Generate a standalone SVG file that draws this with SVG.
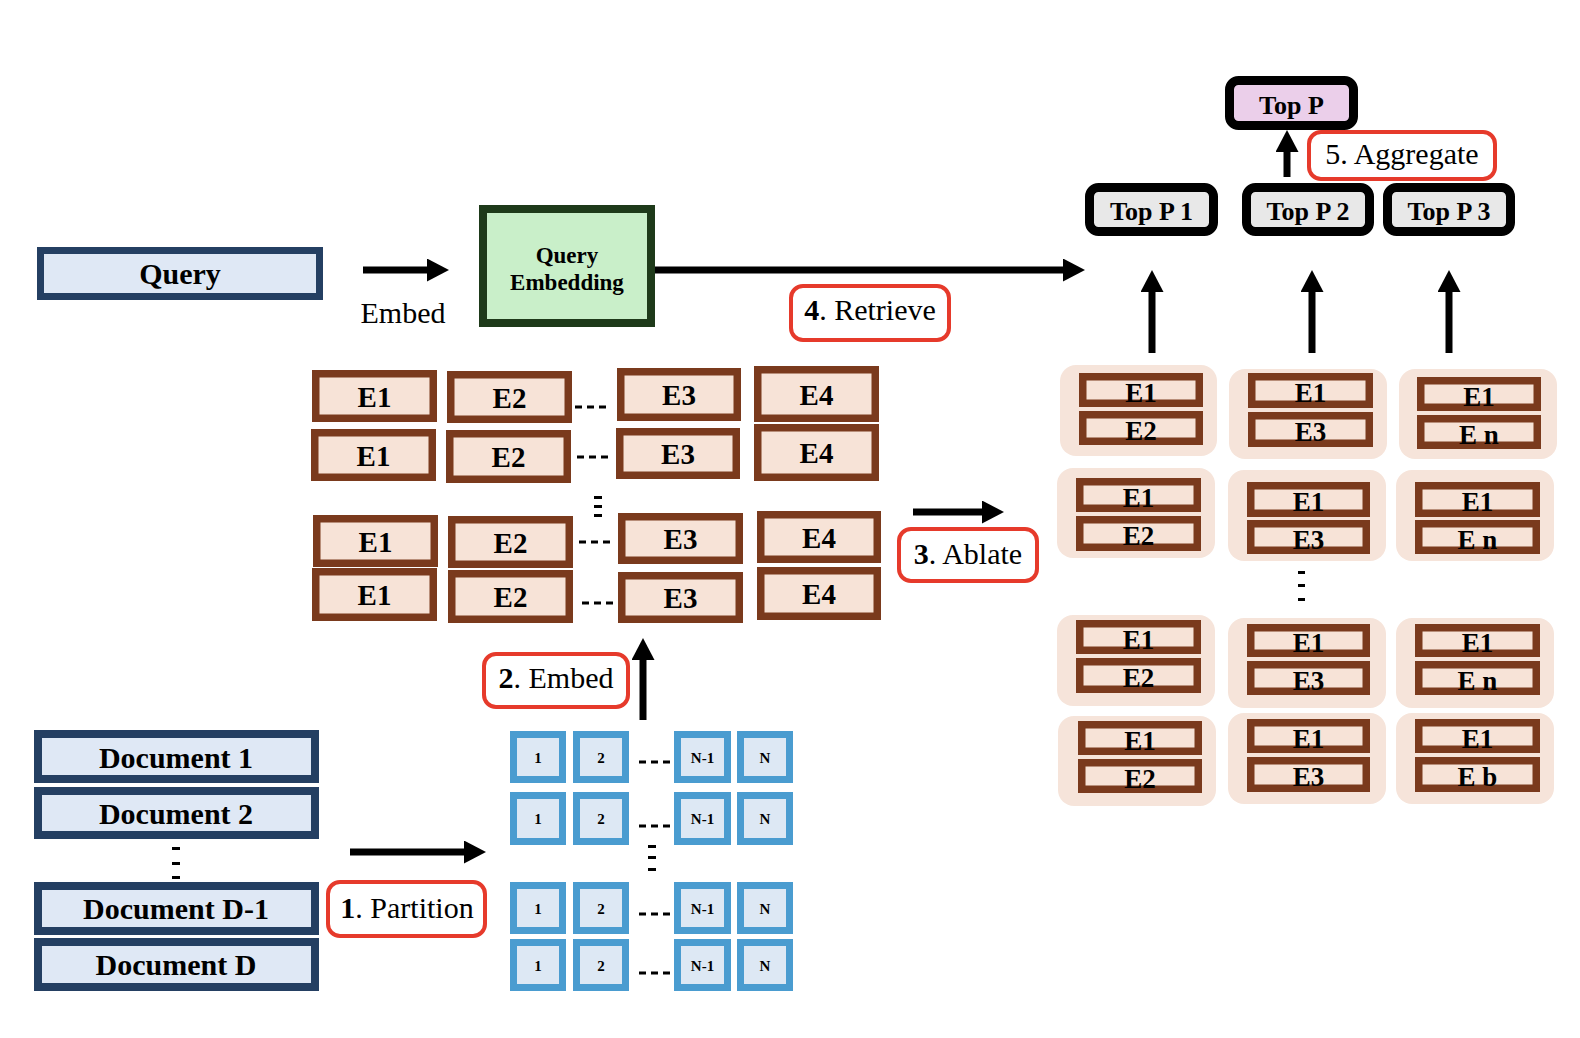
<svg xmlns="http://www.w3.org/2000/svg" width="1580" height="1038" viewBox="0 0 1580 1038">
<defs>
<marker id="ah" markerUnits="userSpaceOnUse" markerWidth="22" markerHeight="23" refX="0" refY="11.5" orient="auto" viewBox="0 0 22 23">
<path d="M0,0 L22,11.5 L0,23 Z" fill="#000"/>
</marker>
<style>
text{font-family:"Liberation Serif","Times New Roman",serif;text-anchor:middle;fill:#000}
.b{font-weight:bold}
.q{fill:#dfe8f5;stroke:#243f62;stroke-width:7}
.d{fill:#dfe8f5;stroke:#243f62;stroke-width:8}
.qe{fill:#c9efc9;stroke:#1e3a1a;stroke-width:8}
.eb{fill:#f7e3d7;stroke:#7a3a1d;stroke-width:7.5}
.grp{fill:#f6e4da;stroke:none}
.bl{fill:#dde8f4;stroke:#4a9cd0;stroke-width:7}
.lab{fill:#fff;stroke:#e63a2b;stroke-width:4}
.tp{fill:#e8e8e8;stroke:#000;stroke-width:9}
.tpp{fill:#ebcfea;stroke:#000;stroke-width:9}
.et{font-weight:bold;font-size:29px}
.rt{font-weight:bold;font-size:27px}
.nt{font-weight:bold;font-size:15px}
.dt{font-weight:bold;font-size:30px}
.lt{font-size:30px}
.tt{font-weight:bold;font-size:26px}
.arr{stroke:#000;stroke-width:7;fill:none;marker-end:url(#ah)}
.dash{stroke:#000;stroke-width:3;stroke-dasharray:7 5;fill:none}
.dot{fill:#000}
</style>
</defs>
<rect width="1580" height="1038" fill="#fff"/>

<g id="connectors">
<line class="arr" x1="363" y1="270" x2="427" y2="270"/>
<line class="arr" x1="655" y1="270" x2="1063" y2="270"/>
<line class="arr" x1="913" y1="512" x2="982" y2="512"/>
<line class="arr" x1="350" y1="852" x2="464" y2="852"/>
<line class="arr" x1="643" y1="720" x2="643" y2="660"/>
<line class="arr" x1="1152" y1="353" x2="1152" y2="292"/>
<line class="arr" x1="1312" y1="353" x2="1312" y2="292"/>
<line class="arr" x1="1449" y1="353" x2="1449" y2="292"/>
<line class="arr" x1="1287" y1="177" x2="1287" y2="152"/>
</g>

<g id="query">
<rect class="q" x="40.5" y="250.5" width="279" height="46"/>
<text class="b" x="180" y="284" font-size="30">Query</text>
</g>
<text id="embed-label" class="lt" x="403" y="323" font-size="29">Embed</text>

<g id="query-embedding">
<rect class="qe" x="483" y="209" width="168" height="114"/>
<text class="b" x="567" y="263" font-size="23">Query</text>
<text class="b" x="567" y="290" font-size="23">Embedding</text>
</g>

<g id="label-retrieve">
<rect class="lab" x="791" y="286" width="158" height="54" rx="12"/>
<text class="lt" x="870" y="320"><tspan class="b">4</tspan>. Retrieve</text>
</g>
<g id="label-ablate">
<rect class="lab" x="899" y="529" width="138" height="52" rx="12"/>
<text class="lt" x="968" y="564"><tspan class="b">3</tspan>. Ablate</text>
</g>
<g id="label-embed">
<rect class="lab" x="484" y="654" width="144" height="53" rx="12"/>
<text class="lt" x="556" y="688"><tspan class="b">2</tspan>. Embed</text>
</g>
<g id="label-partition">
<rect class="lab" x="328" y="882" width="157" height="54" rx="12"/>
<text class="lt" x="407" y="918"><tspan class="b">1</tspan>. Partition</text>
</g>
<g id="label-aggregate">
<rect class="lab" x="1309" y="132" width="186" height="47" rx="12"/>
<text class="lt" x="1402" y="164">5. Aggregate</text>
</g>

<g id="documents">
<rect class="d" x="38" y="734" width="277" height="45"/>
<text class="dt" x="176" y="768">Document 1</text>
<rect class="d" x="38" y="791" width="277" height="44"/>
<text class="dt" x="176" y="824">Document 2</text>
<rect class="dot" x="172" y="847" width="8" height="3"/>
<rect class="dot" x="172" y="862" width="8" height="3"/>
<rect class="dot" x="172" y="876" width="8" height="3"/>
<rect class="d" x="38" y="886" width="277" height="45"/>
<text class="dt" x="176" y="919">Document D-1</text>
<rect class="d" x="38" y="942" width="277" height="45"/>
<text class="dt" x="176" y="975">Document D</text>
</g>

<g id="partitions">
<rect class="bl" x="513.5" y="734.5" width="49" height="45"/><text class="nt" x="538" y="763">1</text>
<rect class="bl" x="576.5" y="734.5" width="49" height="45"/><text class="nt" x="601" y="763">2</text>
<rect class="bl" x="677.5" y="734.5" width="50" height="45"/><text class="nt" x="702.5" y="763">N-1</text>
<rect class="bl" x="740.5" y="734.5" width="49" height="45"/><text class="nt" x="765" y="763">N</text>
<line class="dash" x1="639" y1="762" x2="670" y2="762"/>

<rect class="bl" x="513.5" y="795.5" width="49" height="46"/><text class="nt" x="538" y="824">1</text>
<rect class="bl" x="576.5" y="795.5" width="49" height="46"/><text class="nt" x="601" y="824">2</text>
<rect class="bl" x="677.5" y="795.5" width="50" height="46"/><text class="nt" x="702.5" y="824">N-1</text>
<rect class="bl" x="740.5" y="795.5" width="49" height="46"/><text class="nt" x="765" y="824">N</text>
<line class="dash" x1="639" y1="826" x2="670" y2="826"/>

<rect class="dot" x="648" y="845" width="8" height="3"/>
<rect class="dot" x="648" y="856" width="8" height="3"/>
<rect class="dot" x="648" y="868" width="8" height="3"/>

<rect class="bl" x="513.5" y="885.5" width="49" height="45"/><text class="nt" x="538" y="914">1</text>
<rect class="bl" x="576.5" y="885.5" width="49" height="45"/><text class="nt" x="601" y="914">2</text>
<rect class="bl" x="677.5" y="885.5" width="50" height="45"/><text class="nt" x="702.5" y="914">N-1</text>
<rect class="bl" x="740.5" y="885.5" width="49" height="45"/><text class="nt" x="765" y="914">N</text>
<line class="dash" x1="639" y1="914" x2="670" y2="914"/>

<rect class="bl" x="513.5" y="942.5" width="49" height="45"/><text class="nt" x="538" y="971">1</text>
<rect class="bl" x="576.5" y="942.5" width="49" height="45"/><text class="nt" x="601" y="971">2</text>
<rect class="bl" x="677.5" y="942.5" width="50" height="45"/><text class="nt" x="702.5" y="971">N-1</text>
<rect class="bl" x="740.5" y="942.5" width="49" height="45"/><text class="nt" x="765" y="971">N</text>
<line class="dash" x1="639" y1="973" x2="670" y2="973"/>
</g>

<g id="embeddings">
<rect class="eb" x="315.75" y="373.75" width="117.5" height="44.5"/><text class="et" x="374.5" y="407">E1</text>
<rect class="eb" x="450.75" y="374.75" width="117.5" height="44.5"/><text class="et" x="509.5" y="408">E2</text>
<rect class="eb" x="620.75" y="371.75" width="116.5" height="45.5"/><text class="et" x="679" y="405">E3</text>
<rect class="eb" x="757.75" y="369.75" width="117.5" height="48.5"/><text class="et" x="816.5" y="405">E4</text>
<line class="dash" x1="575" y1="407" x2="606" y2="407"/>

<rect class="eb" x="314.75" y="432.75" width="117.5" height="44.5"/><text class="et" x="373.5" y="466">E1</text>
<rect class="eb" x="449.75" y="433.75" width="117.5" height="45.5"/><text class="et" x="508.5" y="467">E2</text>
<rect class="eb" x="619.75" y="431.75" width="116.5" height="43.5"/><text class="et" x="678" y="464">E3</text>
<rect class="eb" x="757.75" y="427.75" width="117.5" height="49.5"/><text class="et" x="816.5" y="463">E4</text>
<line class="dash" x1="577" y1="457" x2="612" y2="457"/>

<rect class="dot" x="594" y="496" width="8" height="3"/>
<rect class="dot" x="594" y="505" width="8" height="3"/>
<rect class="dot" x="594" y="514" width="8" height="3"/>

<rect class="eb" x="316.75" y="518.75" width="117.5" height="44.5"/><text class="et" x="375.5" y="551.5">E1</text>
<rect class="eb" x="451.75" y="519.75" width="117.5" height="44.5"/><text class="et" x="510.5" y="552.5">E2</text>
<rect class="eb" x="621.75" y="516.75" width="117.5" height="43.5"/><text class="et" x="680.5" y="549">E3</text>
<rect class="eb" x="760.75" y="514.75" width="116.5" height="44.5"/><text class="et" x="819" y="547.5">E4</text>
<line class="dash" x1="579" y1="542" x2="614" y2="542"/>

<rect class="eb" x="315.75" y="571.75" width="117.5" height="45.5"/><text class="et" x="374.5" y="605">E1</text>
<rect class="eb" x="451.75" y="573.75" width="117.5" height="45.5"/><text class="et" x="510.5" y="607">E2</text>
<rect class="eb" x="621.75" y="575.75" width="117.5" height="43.5"/><text class="et" x="680.5" y="608">E3</text>
<rect class="eb" x="760.75" y="570.75" width="116.5" height="45.5"/><text class="et" x="819" y="604">E4</text>
<line class="dash" x1="582" y1="603" x2="616" y2="603"/>
</g>

<g id="ablations-col1">
<rect class="grp" x="1060" y="365" width="157" height="91" rx="16"/>
<rect class="eb" x="1082.75" y="376.75" width="116.5" height="26.5"/><text class="rt" x="1141" y="401.5">E1</text>
<rect class="eb" x="1082.75" y="414.75" width="116.5" height="26.5"/><text class="rt" x="1141" y="439.5">E2</text>

<rect class="grp" x="1057" y="468" width="158" height="90" rx="16"/>
<rect class="eb" x="1079.75" y="481.75" width="117.5" height="26.5"/><text class="rt" x="1138.5" y="506.5">E1</text>
<rect class="eb" x="1079.75" y="519.75" width="117.5" height="27.5"/><text class="rt" x="1138.5" y="545">E2</text>

<rect class="grp" x="1057" y="615" width="158" height="91" rx="16"/>
<rect class="eb" x="1079.75" y="623.75" width="117.5" height="26.5"/><text class="rt" x="1138.5" y="648.5">E1</text>
<rect class="eb" x="1079.75" y="661.75" width="117.5" height="27.5"/><text class="rt" x="1138.5" y="687">E2</text>

<rect class="grp" x="1058" y="716" width="158" height="90" rx="16"/>
<rect class="eb" x="1081.75" y="724.75" width="116.5" height="26.5"/><text class="rt" x="1140" y="749.5">E1</text>
<rect class="eb" x="1081.75" y="762.75" width="116.5" height="26.5"/><text class="rt" x="1140" y="787.5">E2</text>
</g>

<g id="ablations-col2">
<rect class="grp" x="1229" y="369" width="158" height="90" rx="16"/>
<rect class="eb" x="1251.75" y="376.75" width="117.5" height="27.5"/><text class="rt" x="1310.5" y="402">E1</text>
<rect class="eb" x="1251.75" y="415.75" width="117.5" height="27.5"/><text class="rt" x="1310.5" y="441">E3</text>

<rect class="grp" x="1228" y="470" width="158" height="91" rx="16"/>
<rect class="eb" x="1250.75" y="485.75" width="115.5" height="27.5"/><text class="rt" x="1308.5" y="511">E1</text>
<rect class="eb" x="1250.75" y="523.75" width="115.5" height="26.5"/><text class="rt" x="1308.5" y="548.5">E3</text>

<rect class="dot" x="1298" y="571" width="7" height="3"/>
<rect class="dot" x="1298" y="584" width="7" height="3"/>
<rect class="dot" x="1298" y="598" width="7" height="3"/>

<rect class="grp" x="1228" y="618" width="158" height="90" rx="16"/>
<rect class="eb" x="1250.75" y="627.75" width="115.5" height="25.5"/><text class="rt" x="1308.5" y="652">E1</text>
<rect class="eb" x="1250.75" y="664.75" width="115.5" height="26.5"/><text class="rt" x="1308.5" y="689.5">E3</text>

<rect class="grp" x="1228" y="713" width="158" height="91" rx="16"/>
<rect class="eb" x="1250.75" y="722.75" width="115.5" height="26.5"/><text class="rt" x="1308.5" y="747.5">E1</text>
<rect class="eb" x="1250.75" y="760.75" width="115.5" height="27.5"/><text class="rt" x="1308.5" y="786">E3</text>
</g>

<g id="ablations-col3">
<rect class="grp" x="1399" y="369" width="158" height="90" rx="16"/>
<rect class="eb" x="1420.75" y="380.75" width="116.5" height="26.5"/><text class="rt" x="1479" y="405.5">E1</text>
<rect class="eb" x="1420.75" y="418.75" width="116.5" height="26.5"/><text class="rt" x="1479" y="443.5">E n</text>

<rect class="grp" x="1396" y="470" width="158" height="91" rx="16"/>
<rect class="eb" x="1418.75" y="485.75" width="117.5" height="27.5"/><text class="rt" x="1477.5" y="511">E1</text>
<rect class="eb" x="1418.75" y="523.75" width="117.5" height="26.5"/><text class="rt" x="1477.5" y="548.5">E n</text>

<rect class="grp" x="1396" y="618" width="158" height="90" rx="16"/>
<rect class="eb" x="1418.75" y="627.75" width="117.5" height="25.5"/><text class="rt" x="1477.5" y="652">E1</text>
<rect class="eb" x="1418.75" y="664.75" width="117.5" height="26.5"/><text class="rt" x="1477.5" y="689.5">E n</text>

<rect class="grp" x="1396" y="713" width="158" height="91" rx="16"/>
<rect class="eb" x="1418.75" y="722.75" width="117.5" height="26.5"/><text class="rt" x="1477.5" y="747.5">E1</text>
<rect class="eb" x="1418.75" y="760.75" width="117.5" height="27.5"/><text class="rt" x="1477.5" y="786">E b</text>
</g>

<g id="top-p">
<rect class="tpp" x="1229.5" y="80.5" width="124" height="45" rx="9"/>
<text class="tt" x="1291.5" y="114">Top P</text>
</g>
<g id="top-p1">
<rect class="tp" x="1089.5" y="187.5" width="124" height="44" rx="9"/>
<text class="tt" x="1151.5" y="220">Top P 1</text>
</g>
<g id="top-p2">
<rect class="tp" x="1246.5" y="187.5" width="123" height="44" rx="9"/>
<text class="tt" x="1308" y="220">Top P 2</text>
</g>
<g id="top-p3">
<rect class="tp" x="1387.5" y="187.5" width="123" height="44" rx="9"/>
<text class="tt" x="1449" y="220">Top P 3</text>
</g>
</svg>
